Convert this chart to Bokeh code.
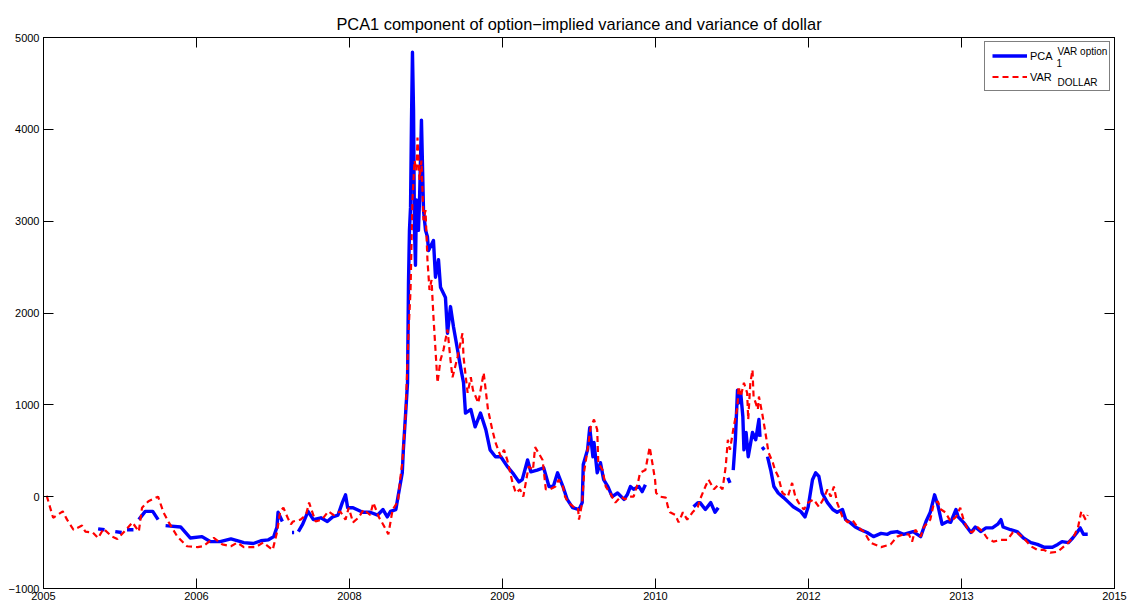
import math
from bokeh.plotting import figure
from bokeh.models import Range1d, LinearAxis, FixedTicker, Legend, LegendItem, BoxAnnotation
from bokeh.core.properties import value
from bokeh.embed import file_html
from bokeh.resources import INLINE

NaN = float("nan")

TITLE = "PCA1 component of option\u2212implied variance and variance of dollar"
X_TICK_LABELS = ["2005", "2006", "2008", "2009", "2010", "2012", "2013", "2015"]
Y_TICKS = [-1000, 0, 1000, 2000, 3000, 4000, 5000]
LEGEND_MAIN = ["PCA", "VAR"]
LEGEND_SUB = ["1", "DOLLAR"]
LEGEND_SUP = ["VAR option"]

# VAR_DOLLAR (red dashed)
DOLLAR_DATES = [
    2005.03, 2005.09, 2005.18, 2005.22, 2005.28, 2005.36, 2005.39, 2005.46, 2005.51, 2005.56,
    2005.64, 2005.69, 2005.77, 2005.83, 2005.89, 2005.92, 2005.98, 2006.07, 2006.12, 2006.17,
    2006.25, 2006.34, 2006.44, 2006.49, 2006.59, 2006.67, 2006.75, 2006.81, 2006.87, 2006.98,
    2007.05, 2007.14, 2007.18, 2007.21, 2007.24, 2007.28, 2007.31, 2007.33, 2007.40, 2007.45,
    2007.48, 2007.54, 2007.60, 2007.66, 2007.71, 2007.77, 2007.82, 2007.85, 2007.89, 2007.94,
    2007.99, 2008.05, 2008.08, 2008.13, 2008.17, 2008.22, 2008.26, 2008.31, 2008.33, 2008.35,
    2008.38, 2008.408, 2008.427, 2008.445, 2008.464, 2008.483, 2008.492, 2008.511, 2008.529, 2008.548,
    2008.567, 2008.585, 2008.604, 2008.623, 2008.641, 2008.660, 2008.679, 2008.707, 2008.735, 2008.772,
    2008.800, 2008.819, 2008.866, 2008.912, 2008.922, 2008.96, 2008.99, 2009.01, 2009.06, 2009.11,
    2009.15, 2009.19, 2009.22, 2009.27, 2009.30, 2009.33, 2009.38, 2009.41, 2009.45, 2009.48,
    2009.53, 2009.57, 2009.59, 2009.62, 2009.66, 2009.69, 2009.73, 2009.78, 2009.81, 2009.85,
    2009.87, 2009.90, 2009.95, 2009.99, 2010.00, 2010.03, 2010.05, 2010.08, 2010.11, 2010.14,
    2010.17, 2010.18, 2010.22, 2010.25, 2010.29, 2010.34, 2010.39, 2010.43, 2010.46, 2010.51,
    2010.55, 2010.57, 2010.62, 2010.66, 2010.69, 2010.71, 2010.72, 2010.76, 2010.81, 2010.83,
    2010.85, 2010.90, 2010.93, 2010.97, 2011.01, 2011.06, 2011.11, 2011.13, 2011.18, 2011.21,
    2011.26, 2011.30, 2011.34, 2011.37, 2011.39, 2011.41, 2011.44, 2011.48, 2011.49, 2011.51,
    2011.54, 2011.57, 2011.58, 2011.60, 2011.62, 2011.63, 2011.67, 2011.68, 2011.71, 2011.74,
    2011.77, 2011.81, 2011.83, 2011.86, 2011.90, 2011.95, 2011.99, 2012.02, 2012.05, 2012.10,
    2012.14, 2012.19, 2012.24, 2012.28, 2012.32, 2012.35, 2012.38, 2012.41, 2012.46, 2012.51,
    2012.55, 2012.60, 2012.66, 2012.72, 2012.82, 2012.91, 2012.97, 2013.03, 2013.08, 2013.11,
    2013.14, 2013.19, 2013.22, 2013.28, 2013.31, 2013.35, 2013.38, 2013.42, 2013.47, 2013.52,
    2013.56, 2013.59, 2013.63, 2013.67, 2013.72, 2013.77, 2013.81, 2013.87, 2013.94, 2014.00,
    2014.05, 2014.09, 2014.15, 2014.22, 2014.28, 2014.34, 2014.40, 2014.47, 2014.52, 2014.57,
    2014.62, 2014.66, 2014.69, 2014.73, 2014.75,
]
DOLLAR_VAR = [
    10, -230, -160, -250, -360, -315, -380, -390, -450, -350,
    -435, -460, -360, -280, -380, -120, -50, 0, -170, -280,
    -435, -540, -550, -540, -450, -520, -540, -500, -550, -550,
    -500, -580, -390, -160, -120, -230, -300, -270, -250, -200,
    -65, -270, -250, -160, -200, -160, -250, -120, -280, -230,
    -140, -200, -65, -220, -300, -410, -140, -50, 185, 370,
    870, 1780, 2250, 3230, 3660, 3550, 3910, 3450, 3660, 3010,
    3120, 2580, 2250, 2360, 1960, 1600, 1240, 1490, 1600, 1820,
    1490, 1300, 1520, 1780, 1520, 1130, 1300, 1160, 1020, 1350,
    950, 730, 590, 435, 510, 400, 150, 40, 80, 0,
    330, 290, 540, 480, 400, 80, 80, 110, 185, 110,
    0, -65, -110, -120, -250, -65, 290, 510, 760, 840,
    730, 370, 290, 110, 40, -65, 0, -30, 0, 0,
    150, 260, 290, 540, 330, 185, 40, 0, -10, -110,
    -170, -200, -280, -170, -250, -170, -110, -30, 110, 185,
    80, 130, 80, 330, 620, 510, 730, 980, 1200, 1090,
    1240, 1130, 840, 1240, 1380, 1090, 950, 1090, 910, 700,
    480, 370, 290, 220, 40, 0, 150, 0, -65, -140,
    -65, -30, -110, -30, 80, 0, 110, -65, -220, -280,
    -250, -330, -380, -500, -550, -520, -435, -410, -410, -490,
    -360, -435, -330, -250, -90, -50, -140, -170, -270, -220,
    -120, -250, -360, -390, -330, -380, -450, -490, -470, -470,
    -390, -390, -450, -540, -580, -580, -610, -600, -550, -500,
    -435, -330, -160, -250, -200,
]

# PCA1 of option-implied variance (blue solid, NaN = missing observations)
PCA_DATES = [
    2005.51, 2005.57, NaN,
    2005.67, 2005.73, NaN,
    2005.78, 2005.84, NaN,
    2005.89, 2005.95, 2006.02, 2006.07, NaN,
    2006.14, 2006.28, 2006.37, 2006.48, 2006.56, 2006.65, 2006.75, 2006.84, 2006.87, 2006.96,
    2007.03, 2007.10, 2007.15, 2007.18, 2007.19, 2007.23, NaN,
    2007.32, 2007.34, NaN,
    2007.38, 2007.42, 2007.47, 2007.52, 2007.59, 2007.65, 2007.70, 2007.75, 2007.79, 2007.82,
    2007.84, 2007.89, 2007.98, 2008.05, 2008.12, 2008.17, 2008.21, 2008.24, 2008.29, 2008.31,
    2008.35, 2008.36, 2008.399, 2008.408, 2008.417, 2008.427, 2008.436, 2008.445, 2008.455, 2008.464,
    2008.473, 2008.483, 2008.501, 2008.511, 2008.529, 2008.548, 2008.567, 2008.585, 2008.595, 2008.641,
    2008.660, 2008.688, 2008.707, 2008.753, 2008.772, 2008.800, 2008.828, 2008.866, 2008.894, 2008.922,
    2008.94, 2008.99, 2009.03, 2009.08, 2009.13, 2009.17, 2009.22, 2009.27, 2009.33, 2009.38,
    2009.44, 2009.47, 2009.52, 2009.55, 2009.61, 2009.67, 2009.72, 2009.76, 2009.80, 2009.85,
    2009.89, 2009.94, 2010.00, 2010.03, 2010.04, 2010.08, 2010.10, 2010.13, 2010.14, 2010.17,
    2010.20, 2010.23, 2010.27, 2010.31, 2010.36, 2010.42, 2010.45, 2010.48, 2010.51, 2010.56,
    2010.59, 2010.62, NaN,
    2011.07, 2011.11, 2011.13, 2011.18, 2011.23, 2011.27, 2011.30, NaN,
    2011.39, 2011.41, NaN,
    2011.44, 2011.46, 2011.48, 2011.49, 2011.51, 2011.53, 2011.54, 2011.56, 2011.58, 2011.62,
    2011.65, 2011.68, 2011.69, NaN,
    2011.71, 2011.73, NaN,
    2011.76, 2011.79, 2011.82, 2011.86, 2011.91, 2011.96, 2012.00, 2012.07, 2012.11, 2012.14,
    2012.18, 2012.21, 2012.24, 2012.27, 2012.32, 2012.37, 2012.41, 2012.46, 2012.49, 2012.53,
    2012.58, 2012.63, 2012.69, 2012.75, 2012.82, 2012.88, 2012.91, 2012.97, 2013.03, 2013.12,
    2013.19, 2013.24, 2013.28, 2013.32, 2013.35, 2013.39, 2013.44, 2013.47, 2013.52, 2013.54,
    2013.59, 2013.66, 2013.70, 2013.75, 2013.80, 2013.86, 2013.91, 2013.94, 2013.96, 2014.03,
    2014.09, 2014.15, 2014.22, 2014.28, 2014.34, 2014.42, 2014.47, 2014.51, 2014.57, 2014.61,
    2014.65, 2014.68, 2014.71, 2014.75,
]
PCA_VAR = [
    -350, -360, NaN,
    -380, -390, NaN,
    -360, -360, NaN,
    -250, -160, -160, -250, NaN,
    -315, -330, -450, -435, -490, -490, -460, -490, -500, -510,
    -480, -470, -435, -330, -170, -270, NaN,
    -390, -390, NaN,
    -380, -300, -160, -250, -230, -270, -220, -200, -65, 20,
    -120, -120, -170, -170, -200, -140, -220, -160, -140, 0,
    260, 510, 1240, 2330, 2900, 3150, 4100, 4840, 4210, 2900,
    2520, 3230, 2900, 3230, 4100, 3120, 2900, 2830, 2680, 2790,
    2390, 2580, 2280, 2170, 1780, 2070, 1850, 1600, 1410, 1240,
    910, 950, 760, 910, 730, 510, 435, 435, 330, 260,
    160, 185, 400, 270, 290, 315, 110, 110, 260, 110,
    -30, -120, -140, -65, 350, 510, 750, 435, 590, 260,
    370, 185, 110, 0, 40, -30, 20, 110, 80, 110,
    55, 130, NaN,
    -110, -65, -65, -140, -65, -170, -120, NaN,
    205, 150, NaN,
    290, 620, 1160, 1020, 1130, 870, 510, 700, 435, 700,
    620, 840, 650, NaN,
    540, 510, NaN,
    435, 290, 110, 40, -10, -65, -110, -160, -220, -110,
    185, 260, 220, 40, -65, -140, -170, -140, -250, -280,
    -330, -360, -390, -435, -400, -410, -390, -380, -410, -380,
    -435, -270, -170, 20, -90, -300, -270, -280, -140, -220,
    -280, -390, -330, -380, -340, -340, -300, -250, -330, -360,
    -380, -450, -500, -520, -550, -550, -520, -490, -500, -450,
    -390, -340, -410, -410,
]

FONT = "Liberation Sans"

p = figure(width=1128, height=604,
           x_range=Range1d(2005, 2015), y_range=Range1d(-1000, 5000),
           output_backend="svg", toolbar_location=None, title=TITLE,
           min_border_left=43, min_border_right=14, min_border_top=37, min_border_bottom=16)
p.background_fill_color = "white"
p.border_fill_color = "white"
p.outline_line_color = "black"
p.outline_line_width = 1
p.xgrid.visible = False
p.ygrid.visible = False

p.title.text_font = FONT
p.title.text_font_size = "16.4px"
p.title.text_font_style = "normal"
p.title.text_color = "black"
p.title.align = "center"
p.title.standoff = 9
p.title.offset = 8

x_ticks = [2005 + k * 10 / 7 for k in range(len(X_TICK_LABELS))]


def style_axis(ax, ticks, labels):
    ax.ticker = FixedTicker(ticks=ticks)
    ax.major_tick_in = 10
    ax.major_tick_out = 0
    ax.minor_tick_in = 0
    ax.minor_tick_out = 0
    ax.axis_line_color = "black"
    ax.major_tick_line_color = "black"
    ax.major_label_text_font = FONT
    ax.major_label_text_color = "black"
    if labels is None:
        # mirrored box ticks only, no labels drawn
        ax.major_label_text_font_size = "1px"
        ax.major_label_text_color = None
        ax.major_label_text_alpha = 0
        ax.major_label_standoff = 0
    else:
        ax.major_label_text_font_size = "11px"
        ax.major_label_overrides = labels


style_axis(p.xaxis[0], x_ticks, {t: s for t, s in zip(x_ticks, X_TICK_LABELS)})
p.xaxis[0].major_label_standoff = 3
style_axis(p.yaxis[0], Y_TICKS, {t: str(t).replace("-", "\u2212") for t in Y_TICKS})
p.yaxis[0].major_label_standoff = 4

top_ax = LinearAxis()
style_axis(top_ax, x_ticks, None)
p.add_layout(top_ax, "above")
right_ax = LinearAxis()
style_axis(right_ax, Y_TICKS, None)
p.add_layout(right_ax, "right")

# white legend backing drawn beneath everything (data never reaches this corner)
p.add_layout(BoxAnnotation(left=2013.814, right=2014.972, top=4956, bottom=4434,
                           fill_color="white", fill_alpha=1, line_color=None,
                           level="underlay"))

r_pca = p.line(PCA_DATES, PCA_VAR, line_color="#0000ff", line_width=3.4, line_join="round")
r_dol = p.line(DOLLAR_DATES, DOLLAR_VAR, line_color="#ff0000", line_width=2.2, line_dash="6 4")

legend = Legend(items=[LegendItem(label=LEGEND_MAIN[0], renderers=[r_pca]),
                       LegendItem(label=LEGEND_MAIN[1], renderers=[r_dol])],
                location="top_right")
legend.margin = 4
legend.padding = 7
legend.spacing = 8
legend.glyph_width = 35
legend.glyph_height = 13
legend.label_height = 13
legend.label_width = 72
legend.label_standoff = 3
legend.label_text_font = FONT
legend.label_text_font_size = "11px"
legend.label_text_color = "black"
legend.border_line_color = "black"
legend.border_line_width = 1
legend.background_fill_alpha = 0
p.add_layout(legend)

# sub- and superscripts of the legend entries
p.text(x=[2014.458, 2014.468, 2014.468], y=[4719, 4844, 4512],
       text=[LEGEND_SUB[0], LEGEND_SUP[0], LEGEND_SUB[1]],
       text_font=value(FONT), text_font_size=value("10px"), text_color="black",
       text_baseline="alphabetic", text_align="left")

open("out.html", "w").write(file_html(p, INLINE))
